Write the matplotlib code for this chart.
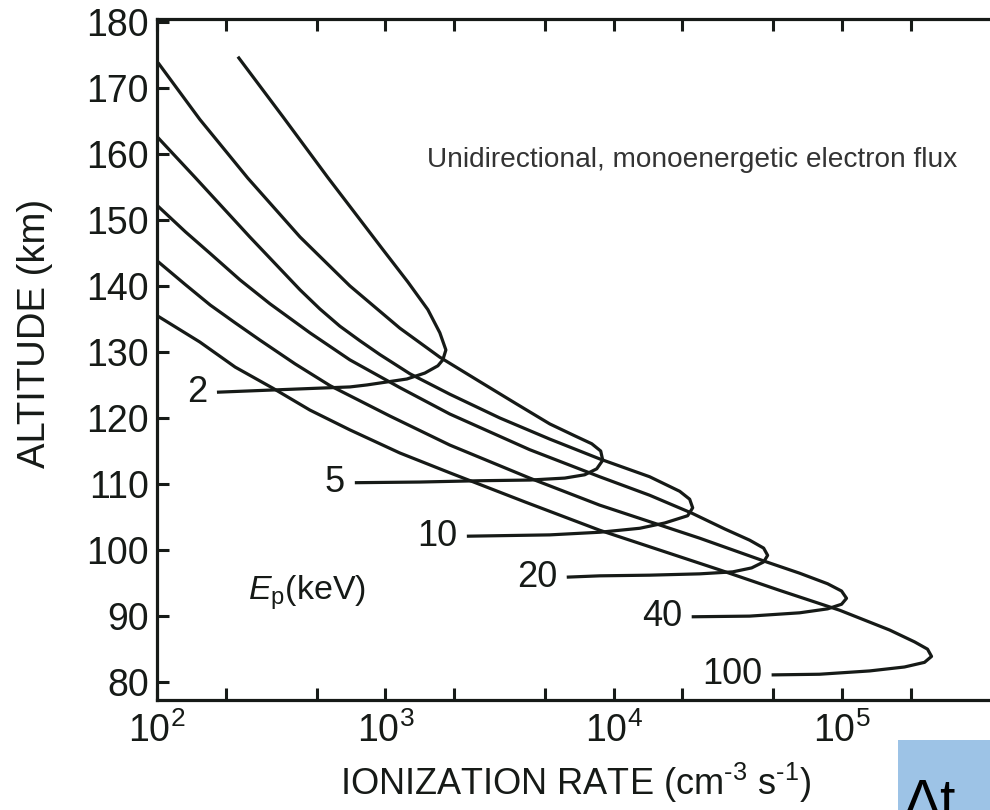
import matplotlib
matplotlib.use('Agg')
import matplotlib.pyplot as plt
from matplotlib.patches import Rectangle
from matplotlib.ticker import FixedLocator, FixedFormatter, LogLocator, NullFormatter

plt.rcParams['font.family'] = ['Liberation Sans', 'DejaVu Sans']
plt.rcParams['mathtext.fontset'] = 'custom'
plt.rcParams['mathtext.rm'] = 'Liberation Sans'
plt.rcParams['mathtext.it'] = 'Liberation Sans:italic'
plt.rcParams['mathtext.bf'] = 'Liberation Sans:bold'

ink = '#161a17'

# Ionization rate profiles (cm^-3 s^-1) vs altitude (km), one per peak energy.
# Each profile starts at the low-altitude tail where the energy label sits.
rate_2 = [183, 423, 700, 830, 1242, 1489, 1698, 1785, 1841, 1732, 1535, 1254, 975, 560, 356, 226]
alt_2 = [123.9, 124.4, 124.7, 125.0, 125.9, 126.8, 127.9, 128.8, 130.3, 132.9, 136.4, 140.6, 145.5, 156.4, 165.6, 174.7]

rate_5 = [735, 1416, 2592, 4285, 6104, 7465, 8426, 8952, 8770, 8011, 6750, 5248, 3763, 2592, 1732, 1157, 699,
          423, 250, 154, 101]
alt_5 = [110.2, 110.3, 110.5, 110.6, 110.9, 111.4, 112.3, 113.6, 115.0, 116.1, 117.3, 119.1, 122.1, 125.5, 129.2,
         133.6, 140.0, 147.4, 156.3, 165.2, 173.8]

rate_10 = [2274, 5248, 8684, 13000, 16720, 21080, 22170, 21510, 19450, 14370, 8684, 5248, 3171, 1915, 1280, 946,
           773, 632, 517, 423, 255, 147, 100]
alt_10 = [102.1, 102.3, 102.7, 103.3, 104.1, 105.2, 106.4, 107.7, 108.9, 111.1, 113.8, 116.8, 120.0, 123.6, 126.7,
          129.6, 131.7, 133.9, 136.5, 139.4, 147.4, 156.4, 162.6]

rate_20 = [6227, 8684, 14370, 23790, 33180, 40180, 45340, 47210, 45340, 39380, 30610, 21950, 14370, 8684, 4285, 1915,
           1157, 699, 467, 312, 231, 171, 133, 100]
alt_20 = [95.9, 96.1, 96.2, 96.4, 96.7, 97.3, 98.2, 99.2, 100.3, 101.5, 103.2, 105.6, 108.3, 111.1, 115.2, 120.6,
          124.6, 128.8, 132.9, 137.3, 140.9, 144.9, 148.2, 152.2]

rate_40 = [21950, 39380, 65160, 86440, 99490, 104600, 99490, 86440, 65160, 46720, 23790, 8684, 4285, 1915, 1046, 572,
           402, 282, 220, 171, 133, 100]
alt_40 = [89.9, 90.0, 90.5, 91.1, 91.8, 92.7, 93.8, 94.9, 96.5, 98.2, 101.8, 106.8, 110.9, 115.9, 120.3, 124.9,
          128.2, 131.8, 134.4, 137.1, 140.2, 143.8]

rate_100 = [49140, 79690, 131930, 187700, 229600, 246500, 236700, 207700, 161400, 97480, 53280, 29100, 15900, 8684,
            4078, 1915, 1157, 699, 467, 322, 220, 154, 100]
alt_100 = [81.1, 81.2, 81.7, 82.3, 83.0, 83.9, 85.0, 86.1, 87.9, 90.9, 93.9, 97.0, 100.0, 103.0,
           107.3, 111.7, 114.7, 118.2, 121.2, 124.5, 127.7, 131.5, 135.5]

energies = ['2', '5', '10', '20', '40', '100']
rates = [rate_2, rate_5, rate_10, rate_20, rate_40, rate_100]
alts = [alt_2, alt_5, alt_10, alt_20, alt_40, alt_100]

x_ticks = [1e2, 1e3, 1e4, 1e5]
x_tick_labels = [r'$10^{2}$', r'$10^{3}$', r'$10^{4}$', r'$10^{5}$']
y_ticks = [80, 90, 100, 110, 120, 130, 140, 150, 160, 170, 180]

fig = plt.figure(figsize=(9.9, 8.1), dpi=100)
ax = fig.add_axes([0.1586, 0.1358, 0.8532, 0.8407])

for e, r, a in zip(energies, rates, alts):
    ax.plot(r, a, color=ink, lw=2.3, solid_joinstyle='round', solid_capstyle='butt')
    ax.annotate(e, xy=(r[0], a[0]), xytext=(-7, 0), textcoords='offset points',
                ha='right', va='center', fontsize=26, color=ink)

ax.set_xscale('log')
ax.set_xlim(1e2, 5e5)
ax.set_ylim(77.3, 180.4)

ax.xaxis.set_major_locator(FixedLocator(x_ticks))
ax.xaxis.set_major_formatter(FixedFormatter(x_tick_labels))
ax.xaxis.set_minor_locator(LogLocator(base=10, subs=(2.0, 5.0)))
ax.xaxis.set_minor_formatter(NullFormatter())
ax.set_yticks(y_ticks)

ax.tick_params(which='both', direction='in', top=True, right=True,
               length=8.5, width=2.2, color=ink, labelsize=27, labelcolor=ink)
ax.tick_params(axis='x', which='major', pad=9)
ax.tick_params(axis='y', pad=6)
for s in ax.spines.values():
    s.set_linewidth(2.3)
    s.set_color(ink)

ax.set_xlabel(r'IONIZATION RATE (cm$^{\text{-}3}$ s$^{\text{-}1}$)', fontsize=26, color=ink,
              labelpad=8, x=0.495)
ax.set_ylabel('ALTITUDE (km)', fontsize=27.5, color=ink, labelpad=24, y=0.539)

ax.text(3.2e5, 159.1, 'Unidirectional, monoenergetic electron flux',
        ha='right', va='center', fontsize=20.2, color='#333333')
ax.text(250, 93.6, r'$E_{\mathrm{p}}$(keV)', ha='left', va='center', fontsize=24.5, color=ink)

# corner tag
fig.patches.append(Rectangle((898 / 990, -0.05), 0.2, 0.05 + 70 / 810,
                             transform=fig.transFigure, facecolor='#9dc3e6',
                             edgecolor='none', zorder=5))
fig.text(903 / 990, -0.009, 'Δt', fontsize=40, color='black', ha='left',
         va='baseline', zorder=6)

fig.savefig('out.png', dpi=100)
